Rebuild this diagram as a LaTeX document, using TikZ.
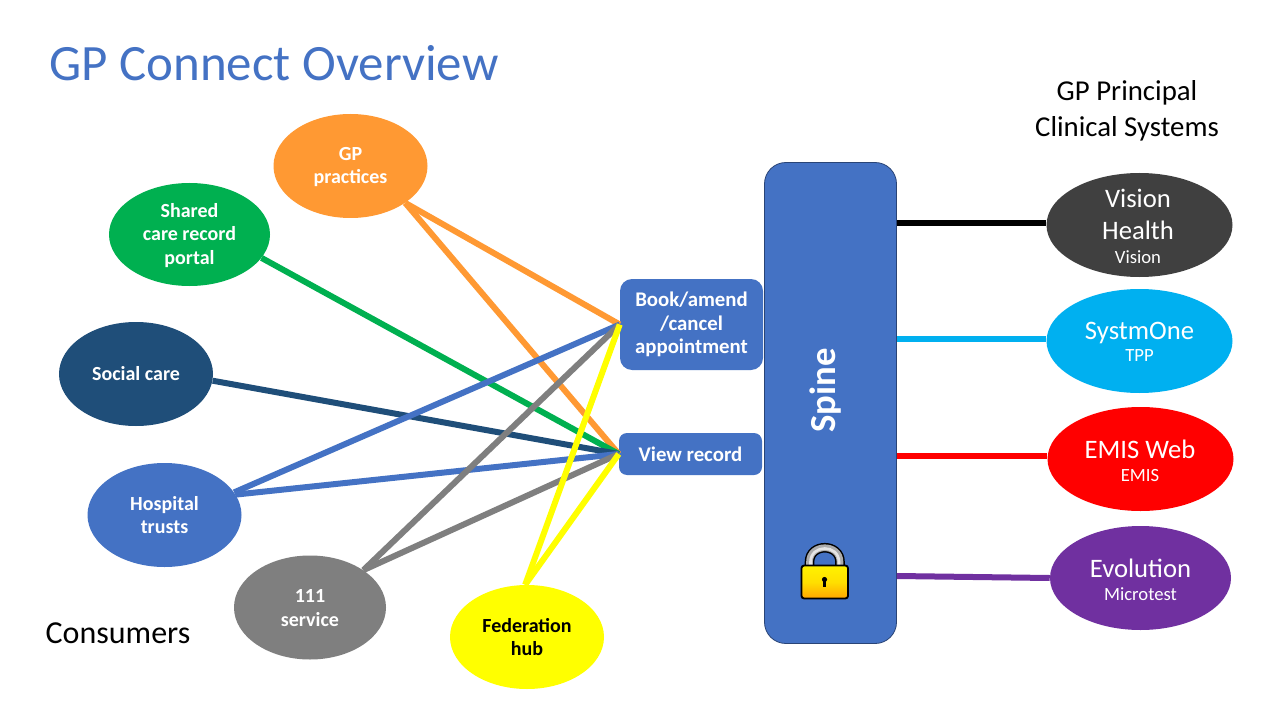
\documentclass[tikz,border=0pt]{standalone}
\usepackage{fontspec}
\usetikzlibrary{shapes.geometric}
\setmainfont{Carlito}
\begin{document}
\begin{tikzpicture}[x=0.75pt,y=-0.75pt,
  oval/.style={ellipse,draw=none,inner sep=0pt},
  conoval/.style={oval,minimum width=154*0.75pt,minimum height=104*0.75pt},
  sysoval/.style={oval,minimum width=186*0.75pt,minimum height=104*0.75pt},
  contxt/.style={inner sep=0pt,align=center,text=white,font=\fontsize{15}{17.8}\selectfont\bfseries},
  systxt/.style={inner sep=0pt,align=center,text=white,font=\fontsize{20}{24}\selectfont},
  actbox/.style={rectangle,rounded corners=9pt,fill=blue1,inner sep=0pt,align=center,text=white,font=\fontsize{15.6}{17.4}\selectfont\bfseries},
  link/.style={line width=4.5pt},
  plain/.style={inner sep=0pt,align=center,font=\fontsize{21.6}{27}\selectfont}]
\definecolor{blue1}{HTML}{4472C4}
\definecolor{orange1}{HTML}{FF9933}
\definecolor{green1}{HTML}{00B050}
\definecolor{navy1}{HTML}{1F4E79}
\definecolor{grey1}{HTML}{7F7F7F}
\definecolor{dark1}{HTML}{404040}
\definecolor{cyan1}{HTML}{00B0F0}
\definecolor{purple1}{HTML}{7030A0}
\definecolor{yellow1}{HTML}{FFFF00}
\definecolor{red1}{HTML}{FF0000}
\useasboundingbox (0,0) rectangle (1280,720);
\fill[white] (0,0) rectangle (1280,720);

\node[inner sep=0pt,text=blue1,font=\fontsize{38.2}{42}\selectfont] (title) at (274,63) {GP Connect Overview};
\node[plain] (princ) at (1127,111) {GP Principal\\Clinical Systems};
\node[plain,font=\fontsize{24}{28}\selectfont] (cons) at (118,633) {Consumers};

\node[actbox,minimum width=143*0.75pt,minimum height=91*0.75pt] (book) at (691.5,324.5) {Book/amend\\/cancel\\appointment};
\node[actbox,rounded corners=6pt,minimum width=143*0.75pt,minimum height=42*0.75pt] (view) at (690.5,454) {View record};

\node[conoval,fill=orange1] (gp) at (350.5,166) {};
\node[conoval,minimum width=161*0.75pt,minimum height=103*0.75pt,fill=green1] (shared) at (189.5,234.5) {};
\node[conoval,fill=navy1] (social) at (136,374) {};
\node[conoval,fill=blue1] (hospital) at (164.5,515) {};
\node[conoval,minimum width=152*0.75pt,fill=grey1] (s111) at (310,607.5) {};
\node[conoval,fill=yellow1] (fed) at (527,637) {};
\node[contxt] (gpt) at (350.5,167) {GP\\practices};
\node[contxt] (sharedt) at (189.5,235.5) {Shared\\care record\\portal};
\node[contxt] (socialt) at (136,374) {Social care};
\node[contxt] (hospitalt) at (164.5,515) {Hospital\\trusts};
\node[contxt] (s111t) at (310,608) {111\\service};
\node[contxt,text=black] (fedt) at (527,637) {Federation\\hub};

\node[rectangle,rounded corners=16pt,draw=blue1!60!black,line width=0.6pt,fill=blue1,minimum width=132*0.75pt,minimum height=481*0.75pt,inner sep=0pt] (spine) at (830.5,403) {};
\node[rotate=90,inner sep=0pt,text=white,font=\fontsize{27.5}{32}\selectfont\bfseries] (spinet) at (826,390.5) {Spine};

\node[sysoval,fill=dark1] (vision) at (1139.5,225) {};
\node[sysoval,fill=cyan1] (systm) at (1139.5,341) {};
\node[sysoval,fill=red1] (emis) at (1140.5,459) {};
\node[sysoval,minimum width=181*0.75pt,fill=purple1] (evo) at (1140.5,578) {};
\node[systxt] (visiont) at (1138,226) {Vision\\Health\\[-6pt]{\fontsize{14}{17}\selectfont Vision}};
\node[systxt] (systmt) at (1139.5,342) {SystmOne\\[-7pt]{\fontsize{14}{17}\selectfont TPP}};
\node[systxt] (emist) at (1140,461) {EMIS Web\\[-7pt]{\fontsize{14}{17}\selectfont EMIS}};
\node[systxt] (evot) at (1140.5,580) {Evolution\\[-7pt]{\fontsize{14}{17}\selectfont Microtest}};

\draw[link,orange1] (gp.-34) -- (book.west);
\draw[link,orange1] (gp.-34) -- (view.west);
\draw[link,green1] (shared.-18) -- (view.west);
\draw[link,navy1] (social.-5) -- (view.west);
\draw[link,blue1] (hospital.18) -- (book.west);
\draw[link,blue1] (hospital.16) -- (view.west);
\draw[link,grey1] (s111.35) -- (book.west);
\draw[link,grey1] (s111.35) -- (view.west);
\draw[link,yellow1] (fed.92) -- (book.west);
\draw[link,yellow1] (fed.92) -- (view.west);

\coordinate (v0) at (spine.east |- 0,223);
\coordinate (s0) at (spine.east |- 0,339);
\coordinate (e0) at (spine.east |- 0,456);
\coordinate (p0) at (spine.east |- 0,576);
\draw[link,black] (v0) -- (vision.west |- v0);
\draw[link,cyan1] (s0) -- (systm.west |- s0);
\draw[link,red1] (e0) -- (emis.west |- e0);
\draw[link,purple1] (p0) -- (evo.west);

\draw[black,line width=7.2pt] (809.5,568) -- (809.5,562) .. controls (809.5,543) and (840,543) .. (840,562) -- (840,568);
\draw[gray!65,line width=5pt] (809.5,568) -- (809.5,562) .. controls (809.5,543) and (840,543) .. (840,562) -- (840,568);
\draw[gray!20,line width=2pt] (810.5,568) -- (810.5,562) .. controls (810.5,544) and (839,544) .. (839,562) -- (839,568);
\draw[black,line width=1.4pt,rounded corners=2pt,top color=yellow1!90!orange,bottom color=orange!70!yellow1,middle color=yellow1!75!orange] (801.5,565.5) rectangle (848,598.5);
\fill[black] (824.5,579.5) circle (2.6*0.75pt);
\fill[black] (823.2,580) rectangle (825.8,587);
\end{tikzpicture}
\end{document}
